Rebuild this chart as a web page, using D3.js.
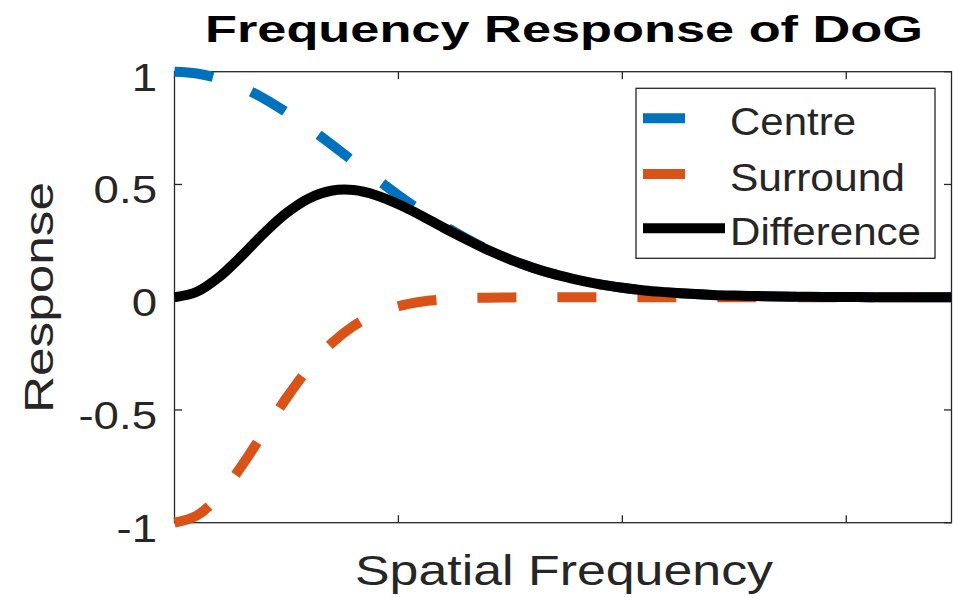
<!DOCTYPE html>
<html>
<head>
<meta charset="utf-8">
<script src="https://cdn.jsdelivr.net/npm/d3@7"></script>
<style>
  html, body { margin: 0; padding: 0; background: #fff; }
  svg { display: block; }
  text { font-family: "Liberation Sans", Arial, Helvetica, sans-serif; fill: #262626; }
</style>
</head>
<body>
<svg id="chart" width="953" height="600"></svg>
<script>
// ---- data ----
const frequency = [0, 0.1, 0.2, 0.3, 0.4, 0.5, 0.6, 0.7, 0.8, 0.9, 1.0, 1.1, 1.2, 1.3, 1.4, 1.5, 1.6, 1.7,
  1.8, 1.9, 2.0, 2.1, 2.2, 2.3, 2.4, 2.5, 2.6, 2.7, 2.8, 2.9, 3.0, 3.1, 3.2, 3.3, 3.4, 3.47];
const centre = [1, 0.992, 0.969, 0.931, 0.881, 0.820, 0.752, 0.678, 0.602, 0.526, 0.452, 0.383, 0.319, 0.262,
  0.211, 0.168, 0.131, 0.101, 0.077, 0.057, 0.042, 0.030, 0.022, 0.015, 0.010, 0.007, 0.005, 0.003, 0.002,
  0.001, 0.001, 0, 0, 0, 0, 0];
const surround = [-1, -0.968, -0.879, -0.748, -0.597, -0.447, -0.314, -0.206, -0.127, -0.074, -0.040, -0.020,
  -0.010, -0.004, -0.002, -0.001, 0, 0, 0, 0, 0, 0, 0, 0, 0, 0, 0, 0, 0, 0, 0, 0, 0, 0, 0, 0];
const difference = [0, 0.024, 0.090, 0.183, 0.284, 0.373, 0.438, 0.472, 0.475, 0.452, 0.412, 0.363, 0.309,
  0.258, 0.209, 0.167, 0.131, 0.101, 0.077, 0.057, 0.042, 0.030, 0.022, 0.015, 0.010, 0.007, 0.005, 0.003,
  0.002, 0.001, 0.001, 0, 0, 0, 0, 0];
const seriesNames = ["Centre", "Surround", "Difference"];
const xTicks = [1, 2, 3];
const yTicks = [1, 0.5, 0, -0.5, -1];
const yTickLabels = ["1", "0.5", "0", "-0.5", "-1"];
const titleText = "Frequency Response of DoG";
const xLabelText = "Spatial Frequency";
const yLabelText = "Response";

// ---- layout ----
const svg = d3.select("#chart");
const L = 174.5, R = 951.5, T = 71.7, B = 522.7;
const x = d3.scaleLinear().domain([0, 3.47]).range([L, R]);
const y = d3.scaleLinear().domain([-1, 1]).range([B, T]);
const axisColor = "#262626";

// box + ticks
const g = svg.append("g");
g.append("rect").attr("x", L).attr("y", T).attr("width", R - L).attr("height", B - T)
  .attr("fill", "none").attr("stroke", axisColor).attr("stroke-width", 1.3);

xTicks.forEach(t => {
  g.append("line").attr("x1", x(t)).attr("x2", x(t)).attr("y1", B).attr("y2", B - 7.5)
    .attr("stroke", axisColor).attr("stroke-width", 1.3);
  g.append("line").attr("x1", x(t)).attr("x2", x(t)).attr("y1", T).attr("y2", T + 7.5)
    .attr("stroke", axisColor).attr("stroke-width", 1.3);
});
yTicks.forEach((t, i) => {
  g.append("line").attr("x1", L).attr("x2", L + 7.5).attr("y1", y(t)).attr("y2", y(t))
    .attr("stroke", axisColor).attr("stroke-width", 1.3);
  g.append("line").attr("x1", R).attr("x2", R - 7.5).attr("y1", y(t)).attr("y2", y(t))
    .attr("stroke", axisColor).attr("stroke-width", 1.3);
  g.append("text")
    .attr("transform", `translate(157,${y(t) + 19}) scale(1.2,1)`)
    .attr("text-anchor", "end").attr("font-size", 38)
    .text(yTickLabels[i]);
});

// lines
const line = d3.line().x(d => x(d[0])).y(d => y(d[1])).curve(d3.curveCatmullRom.alpha(0.5));
const colors = ["#0072BD", "#D95319", "#000000"];
const dashes = ["39,41", "39,41", null];
const allSeries = [centre, surround, difference];
allSeries.forEach((vals, i) => {
  const pts = frequency.map((f, j) => [f, vals[j]]);
  const p = svg.append("path").attr("d", line(pts)).attr("fill", "none")
    .attr("stroke", colors[i]).attr("stroke-width", 10)
    .attr("stroke-linejoin", "round");
  if (dashes[i]) p.attr("stroke-dasharray", dashes[i]);
});

// title & labels
svg.append("text").attr("x", 205).attr("y", 41.7).attr("font-size", 37).attr("font-weight", "bold")
  .style("fill", "#000").attr("textLength", 718).attr("lengthAdjust", "spacingAndGlyphs").text(titleText);
svg.append("text").attr("x", 355).attr("y", 585).attr("font-size", 42)
  .attr("textLength", 418).attr("lengthAdjust", "spacingAndGlyphs").text(xLabelText);
svg.append("text").attr("transform", "translate(53,413) rotate(-90)").attr("font-size", 40)
  .attr("textLength", 231).attr("lengthAdjust", "spacingAndGlyphs").text(yLabelText);

// legend
const lg = svg.append("g");
lg.append("rect").attr("x", 636).attr("y", 88.3).attr("width", 299).attr("height", 170)
  .attr("fill", "#fff").attr("stroke", axisColor).attr("stroke-width", 1.3);
const legY = [118.3, 174, 228.3];
const legLen = [42, 42, 82];
const legTextLen = [126, 175, 191];
seriesNames.forEach((n, i) => {
  lg.append("line").attr("x1", 643).attr("x2", 643 + legLen[i]).attr("y1", legY[i]).attr("y2", legY[i])
    .attr("stroke", colors[i]).attr("stroke-width", 10);
  lg.append("text").attr("x", 730).attr("y", legY[i] + 17).attr("font-size", 39)
    .attr("textLength", legTextLen[i]).attr("lengthAdjust", "spacingAndGlyphs").text(n);
});
</script>
</body>
</html>
